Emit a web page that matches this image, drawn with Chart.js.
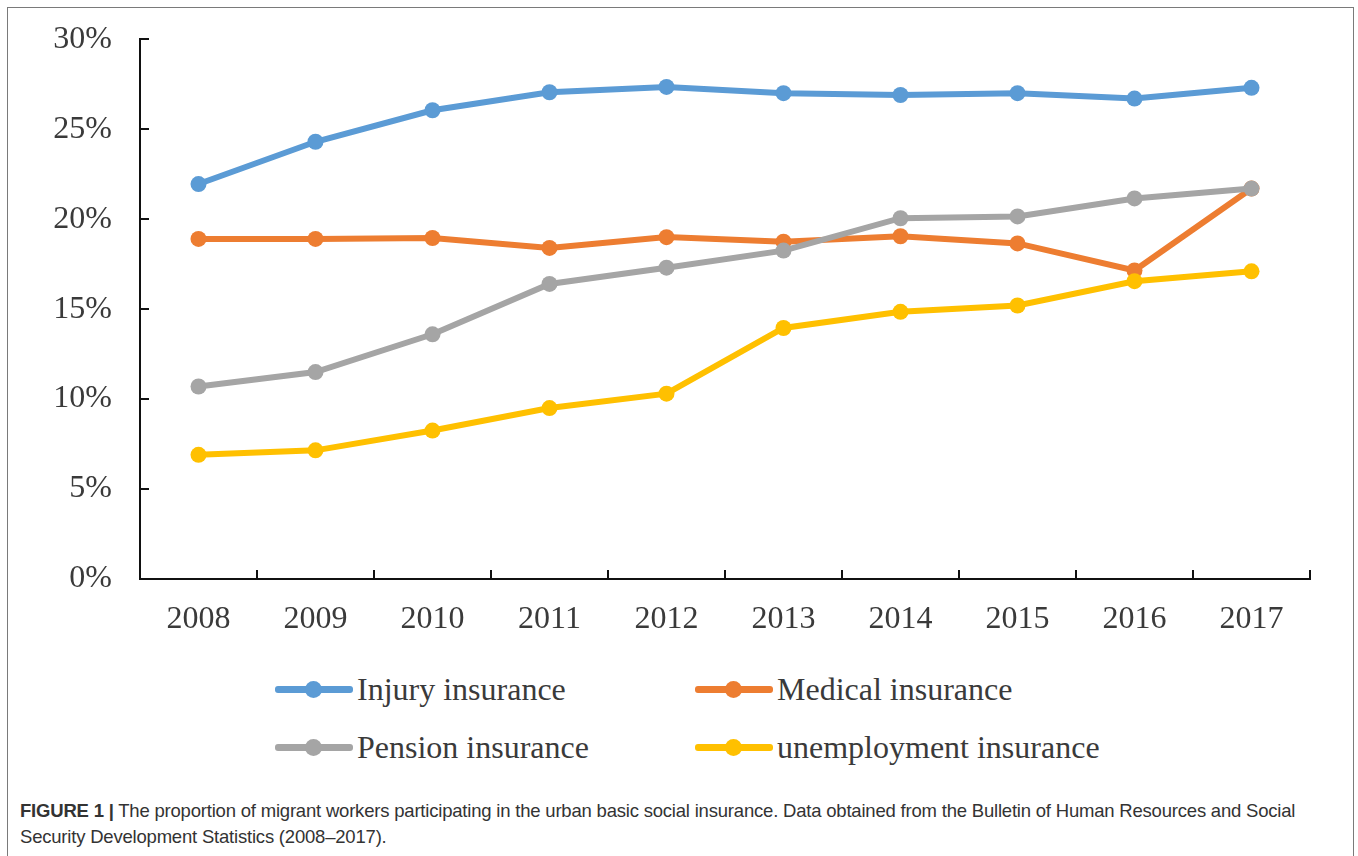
<!DOCTYPE html>
<html>
<head>
<meta charset="utf-8">
<script src="https://cdn.jsdelivr.net/npm/chart.js@4/dist/chart.umd.min.js"></script>
<style>
  html, body { margin: 0; padding: 0; background: #fff; }
  body { width: 1358px; height: 856px; position: relative; overflow: hidden; }
  #frame { position: absolute; left: 7px; top: 7px; width: 1347px; height: 900px; border: 1.5px solid #7a7a7a; box-sizing: border-box; }
  #chartBox { position: absolute; left: 0; top: 0; width: 1358px; height: 660px; }
  #legend { position: absolute; left: 275px; top: 660px; display: grid; grid-template-columns: 420px auto; grid-auto-rows: 58px; }
  .item { display: flex; align-items: center; font-family: "Liberation Serif", "Times New Roman", serif; font-size: 32px; color: #3a3a3a; }
  .mark { position: relative; width: 78px; height: 7px; border-radius: 3px; margin-right: 4px; }
  .mark span { position: absolute; left: 30px; top: -5px; width: 17px; height: 17px; border-radius: 50%; }
  #caption { position: absolute; left: 20px; top: 798px; width: 1320px; white-space: nowrap; font-family: "Liberation Sans", Arial, sans-serif; font-size: 18.5px; line-height: 26px; color: #333; letter-spacing: -0.2px; }
  #caption b { font-weight: bold; }
</style>
</head>
<body>
<div id="frame"></div>
<div id="chartBox"><canvas id="chart" width="1358" height="660"></canvas></div>
<div id="legend"></div>
<div id="caption"><b>FIGURE 1 |</b> The proportion of migrant workers participating in the urban basic social insurance. Data obtained from the Bulletin of Human Resources and Social<br>Security Development Statistics (2008–2017).</div>
<script>
const years = ['2008', '2009', '2010', '2011', '2012', '2013', '2014', '2015', '2016', '2017'];
const injury = [21.95, 24.3, 26.05, 27.05, 27.35, 27.0, 26.9, 27.0, 26.7, 27.3];
const medical = [18.9, 18.9, 18.95, 18.4, 19.0, 18.75, 19.05, 18.65, 17.15, 21.7];
const pension = [10.7, 11.5, 13.6, 16.4, 17.3, 18.25, 20.05, 20.15, 21.15, 21.7];
const unemployment = [6.9, 7.15, 8.25, 9.5, 10.3, 13.95, 14.85, 15.2, 16.55, 17.1];
const seriesNames = ['Injury insurance', 'Medical insurance', 'Pension insurance', 'unemployment insurance'];
const colors = ['#5B9BD5', '#ED7D31', '#A5A5A5', '#FFC000'];
const yTicks = [0, 5, 10, 15, 20, 25, 30];

const allSeries = [injury, medical, pension, unemployment];

// excel style tick marks pointing into the plot
const insideTicks = {
  id: 'insideTicks',
  afterDraw(chart) {
    const ctx = chart.ctx;
    const x = chart.scales.x, y = chart.scales.y;
    ctx.save();
    ctx.strokeStyle = '#111';
    ctx.lineWidth = 2;
    ctx.beginPath();
    for (let i = 1; i <= years.length; i++) {
      const px = Math.round(x.getPixelForValue(i - 0.5));
      ctx.moveTo(px, y.bottom);
      ctx.lineTo(px, y.bottom - 9);
    }
    yTicks.forEach(v => {
      const py = Math.round(y.getPixelForValue(v));
      ctx.moveTo(x.left, py);
      ctx.lineTo(x.left + 9, py);
    });
    ctx.stroke();
    ctx.restore();
  }
};

const datasets = allSeries.map((data, i) => ({
  label: seriesNames[i],
  data: data,
  borderColor: colors[i],
  backgroundColor: colors[i],
  pointBackgroundColor: colors[i],
  pointBorderColor: colors[i],
  borderWidth: 6,
  pointRadius: 8,
  pointBorderWidth: 0,
  tension: 0,
  order: allSeries.length - i
}));

new Chart(document.getElementById('chart').getContext('2d'), {
  type: 'line',
  data: { labels: years, datasets: datasets },
  options: {
    responsive: false,
    animation: false,
    events: [],
    layout: { padding: { top: 32, right: 48, left: 0, bottom: 0 } },
    plugins: { legend: { display: false }, tooltip: { enabled: false } },
    scales: {
      x: {
        offset: true,
        grid: { display: false },
        border: { display: true, color: '#111', width: 2 },
        ticks: { padding: 13, color: '#3a3a3a', font: { family: 'Liberation Serif', size: 32 } },
        afterFit: s => { s.height = 81; }
      },
      y: {
        min: 0,
        max: 30,
        grid: { display: false },
        border: { display: true, color: '#111', width: 2 },
        afterBuildTicks: s => { s.ticks = yTicks.map(v => ({ value: v })); },
        ticks: { padding: 20, color: '#3a3a3a', font: { family: 'Liberation Serif', size: 32 }, callback: v => v + '%' },
        afterFit: s => { s.width = 140; }
      }
    }
  },
  plugins: [insideTicks]
});

const legend = document.getElementById('legend');
seriesNames.forEach((name, i) => {
  const item = document.createElement('div');
  item.className = 'item';
  item.innerHTML = '<div class="mark" style="background:' + colors[i] + '"><span style="background:' + colors[i] + '"></span></div>' + name;
  legend.appendChild(item);
});
</script>
</body>
</html>
